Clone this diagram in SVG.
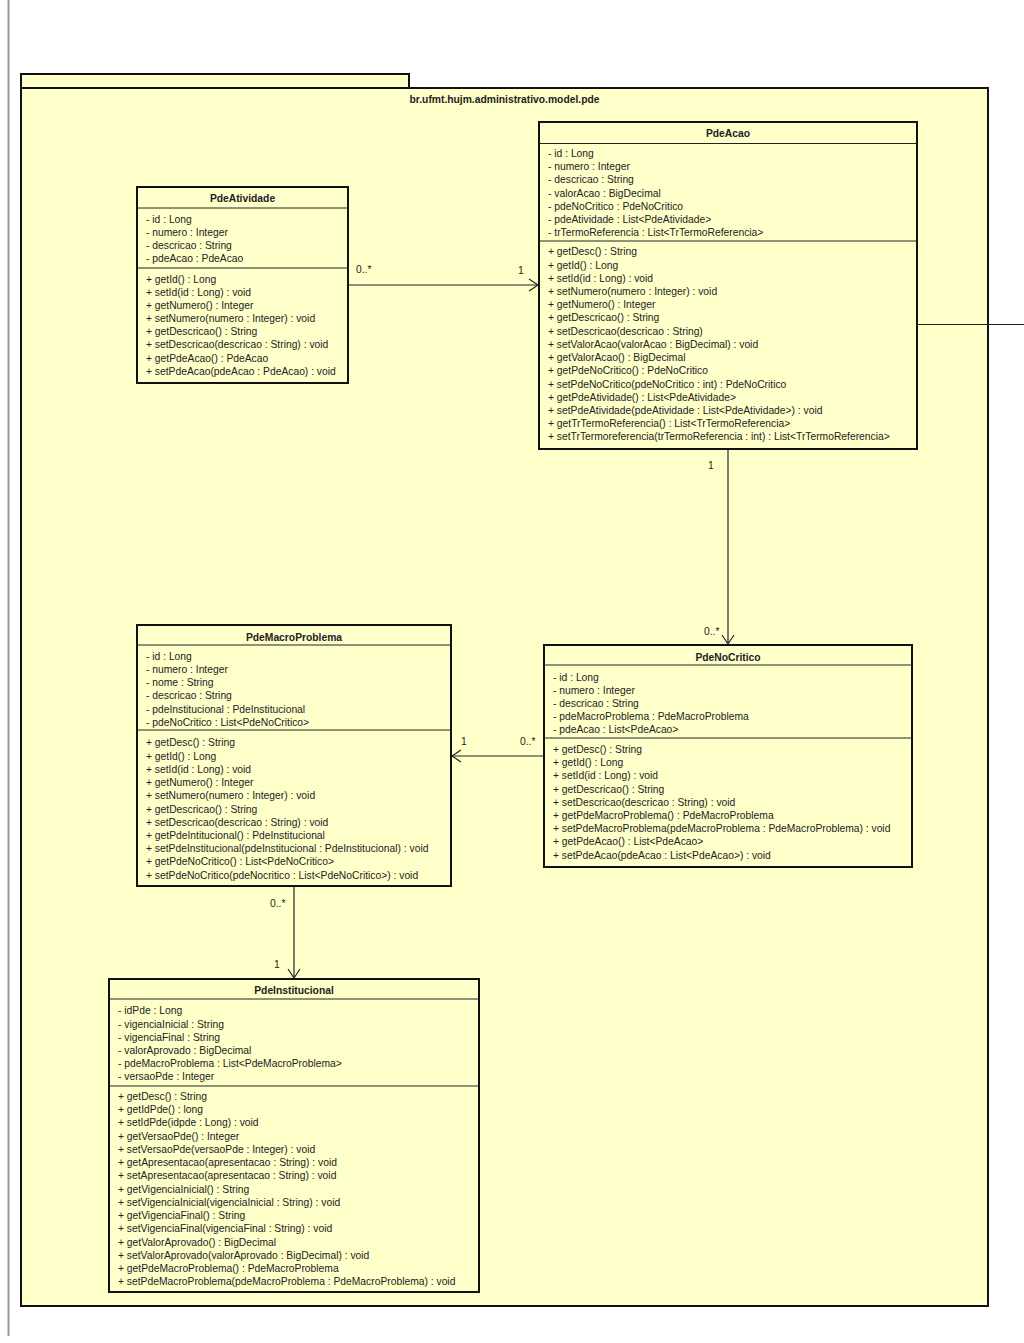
<svg xmlns="http://www.w3.org/2000/svg" width="1024" height="1343" viewBox="0 0 1024 1343">
<style>
text{font-family:"Liberation Sans",Arial,sans-serif;font-size:10.3px;fill:#222}
.t{font-weight:bold;text-anchor:middle}
.box{fill:#FFFFCA;stroke:#111;stroke-width:2}
.sep{stroke:#222;stroke-width:1}
.c{fill:none;stroke:#222;stroke-width:1.2}
</style>
<rect width="1024" height="1343" fill="#fff"/>
<line x1="8.5" y1="0" x2="8.5" y2="1336" stroke="#999" stroke-width="2"/>
<g id="package">
<rect x="21" y="74" width="388" height="14" class="box"/>
<rect x="21" y="88" width="967" height="1218" class="box"/>
<text class="t" x="504.5" y="103">br.ufmt.hujm.administrativo.model.pde</text>
</g>
<g id="connectors">
<line x1="348" y1="285" x2="538" y2="285" class="c"/>
<polyline points="529,279 538,285 529,291" class="c"/>
<text x="356" y="273">0..*</text>
<text x="518" y="274">1</text>
<line x1="728" y1="449" x2="728" y2="644" class="c"/>
<polyline points="722,635 728,644 734,635" class="c"/>
<text x="708" y="469">1</text>
<text x="704" y="635">0..*</text>
<line x1="544" y1="756" x2="452" y2="756" class="c"/>
<polyline points="461,750 452,756 461,762" class="c"/>
<text x="461" y="745">1</text>
<text x="520" y="745">0..*</text>
<line x1="294" y1="886" x2="294" y2="978" class="c"/>
<polyline points="288,969 294,978 300,969" class="c"/>
<text x="270" y="907">0..*</text>
<text x="274" y="968">1</text>
<line x1="918" y1="324.5" x2="1024" y2="324.5" class="c"/>
</g>
<g id="PdeAtividade">
<rect x="137" y="187" width="211" height="196" class="box"/>
<line x1="137" y1="208" x2="348" y2="208" class="sep"/>
<line x1="137" y1="268" x2="348" y2="268" class="sep"/>
<text class="t" x="242.5" y="202">PdeAtividade</text>
<text x="146" y="222.5"><tspan x="146">- id : Long</tspan><tspan x="146" dy="13.2">- numero : Integer</tspan><tspan x="146" dy="13.2">- descricao : String</tspan><tspan x="146" dy="13.2">- pdeAcao : PdeAcao</tspan></text>
<text x="146" y="282.7"><tspan x="146">+ getId() : Long</tspan><tspan x="146" dy="13.15">+ setId(id : Long) : void</tspan><tspan x="146" dy="13.15">+ getNumero() : Integer</tspan><tspan x="146" dy="13.15">+ setNumero(numero : Integer) : void</tspan><tspan x="146" dy="13.15">+ getDescricao() : String</tspan><tspan x="146" dy="13.15">+ setDescricao(descricao : String) : void</tspan><tspan x="146" dy="13.15">+ getPdeAcao() : PdeAcao</tspan><tspan x="146" dy="13.15">+ setPdeAcao(pdeAcao : PdeAcao) : void</tspan></text>
</g>
<g id="PdeAcao">
<rect x="539" y="122" width="378" height="327" class="box"/>
<line x1="539" y1="143.5" x2="917" y2="143.5" class="sep"/>
<line x1="539" y1="241" x2="917" y2="241" class="sep"/>
<text class="t" x="728" y="137">PdeAcao</text>
<text x="548" y="157"><tspan x="548">- id : Long</tspan><tspan x="548" dy="13.17">- numero : Integer</tspan><tspan x="548" dy="13.17">- descricao : String</tspan><tspan x="548" dy="13.17">- valorAcao : BigDecimal</tspan><tspan x="548" dy="13.17">- pdeNoCritico : PdeNoCritico</tspan><tspan x="548" dy="13.17">- pdeAtividade : List&lt;PdeAtividade&gt;</tspan><tspan x="548" dy="13.17">- trTermoReferencia : List&lt;TrTermoReferencia&gt;</tspan></text>
<text x="548" y="255.4"><tspan x="548">+ getDesc() : String</tspan><tspan x="548" dy="13.21">+ getId() : Long</tspan><tspan x="548" dy="13.21">+ setId(id : Long) : void</tspan><tspan x="548" dy="13.21">+ setNumero(numero : Integer) : void</tspan><tspan x="548" dy="13.21">+ getNumero() : Integer</tspan><tspan x="548" dy="13.21">+ getDescricao() : String</tspan><tspan x="548" dy="13.21">+ setDescricao(descricao : String)</tspan><tspan x="548" dy="13.21">+ setValorAcao(valorAcao : BigDecimal) : void</tspan><tspan x="548" dy="13.21">+ getValorAcao() : BigDecimal</tspan><tspan x="548" dy="13.21">+ getPdeNoCritico() : PdeNoCritico</tspan><tspan x="548" dy="13.21">+ setPdeNoCritico(pdeNoCritico : int) : PdeNoCritico</tspan><tspan x="548" dy="13.21">+ getPdeAtividade() : List&lt;PdeAtividade&gt;</tspan><tspan x="548" dy="13.21">+ setPdeAtividade(pdeAtividade : List&lt;PdeAtividade&gt;) : void</tspan><tspan x="548" dy="13.21">+ getTrTermoReferencia() : List&lt;TrTermoReferencia&gt;</tspan><tspan x="548" dy="13.21">+ setTrTermoreferencia(trTermoReferencia : int) : List&lt;TrTermoReferencia&gt;</tspan></text>
</g>
<g id="PdeNoCritico">
<rect x="544" y="645" width="368" height="222" class="box"/>
<line x1="544" y1="665" x2="912" y2="665" class="sep"/>
<line x1="544" y1="738" x2="912" y2="738" class="sep"/>
<text class="t" x="728" y="660.5">PdeNoCritico</text>
<text x="553" y="681"><tspan x="553">- id : Long</tspan><tspan x="553" dy="13.1">- numero : Integer</tspan><tspan x="553" dy="13.1">- descricao : String</tspan><tspan x="553" dy="13.1">- pdeMacroProblema : PdeMacroProblema</tspan><tspan x="553" dy="13.1">- pdeAcao : List&lt;PdeAcao&gt;</tspan></text>
<text x="553" y="753"><tspan x="553">+ getDesc() : String</tspan><tspan x="553" dy="13.2">+ getId() : Long</tspan><tspan x="553" dy="13.2">+ setId(id : Long) : void</tspan><tspan x="553" dy="13.2">+ getDescricao() : String</tspan><tspan x="553" dy="13.2">+ setDescricao(descricao : String) : void</tspan><tspan x="553" dy="13.2">+ getPdeMacroProblema() : PdeMacroProblema</tspan><tspan x="553" dy="13.2">+ setPdeMacroProblema(pdeMacroProblema : PdeMacroProblema) : void</tspan><tspan x="553" dy="13.2">+ getPdeAcao() : List&lt;PdeAcao&gt;</tspan><tspan x="553" dy="13.2">+ setPdeAcao(pdeAcao : List&lt;PdeAcao&gt;) : void</tspan></text>
</g>
<g id="PdeMacroProblema">
<rect x="137" y="625" width="314" height="261" class="box"/>
<line x1="137" y1="645" x2="451" y2="645" class="sep"/>
<line x1="137" y1="730" x2="451" y2="730" class="sep"/>
<text class="t" x="294" y="640.5">PdeMacroProblema</text>
<text x="146" y="659.8"><tspan x="146">- id : Long</tspan><tspan x="146" dy="13.2">- numero : Integer</tspan><tspan x="146" dy="13.2">- nome : String</tspan><tspan x="146" dy="13.2">- descricao : String</tspan><tspan x="146" dy="13.2">- pdeInstitucional : PdeInstitucional</tspan><tspan x="146" dy="13.2">- pdeNoCritico : List&lt;PdeNoCritico&gt;</tspan></text>
<text x="146" y="746.4"><tspan x="146">+ getDesc() : String</tspan><tspan x="146" dy="13.23">+ getId() : Long</tspan><tspan x="146" dy="13.23">+ setId(id : Long) : void</tspan><tspan x="146" dy="13.23">+ getNumero() : Integer</tspan><tspan x="146" dy="13.23">+ setNumero(numero : Integer) : void</tspan><tspan x="146" dy="13.23">+ getDescricao() : String</tspan><tspan x="146" dy="13.23">+ setDescricao(descricao : String) : void</tspan><tspan x="146" dy="13.23">+ getPdeIntitucional() : PdeInstitucional</tspan><tspan x="146" dy="13.23">+ setPdeInstitucional(pdeInstitucional : PdeInstitucional) : void</tspan><tspan x="146" dy="13.23">+ getPdeNoCritico() : List&lt;PdeNoCritico&gt;</tspan><tspan x="146" dy="13.23">+ setPdeNoCritico(pdeNocritico : List&lt;PdeNoCritico&gt;) : void</tspan></text>
</g>
<g id="PdeInstitucional">
<rect x="109" y="979" width="370" height="313" class="box"/>
<line x1="109" y1="999" x2="479" y2="999" class="sep"/>
<line x1="109" y1="1086" x2="479" y2="1086" class="sep"/>
<text class="t" x="294" y="994">PdeInstitucional</text>
<text x="118" y="1014.4"><tspan x="118">- idPde : Long</tspan><tspan x="118" dy="13.2">- vigenciaInicial : String</tspan><tspan x="118" dy="13.2">- vigenciaFinal : String</tspan><tspan x="118" dy="13.2">- valorAprovado : BigDecimal</tspan><tspan x="118" dy="13.2">- pdeMacroProblema : List&lt;PdeMacroProblema&gt;</tspan><tspan x="118" dy="13.2">- versaoPde : Integer</tspan></text>
<text x="118" y="1099.8"><tspan x="118">+ getDesc() : String</tspan><tspan x="118" dy="13.26">+ getIdPde() : long</tspan><tspan x="118" dy="13.26">+ setIdPde(idpde : Long) : void</tspan><tspan x="118" dy="13.26">+ getVersaoPde() : Integer</tspan><tspan x="118" dy="13.26">+ setVersaoPde(versaoPde : Integer) : void</tspan><tspan x="118" dy="13.26">+ getApresentacao(apresentacao : String) : void</tspan><tspan x="118" dy="13.26">+ setApresentacao(apresentacao : String) : void</tspan><tspan x="118" dy="13.26">+ getVigenciaInicial() : String</tspan><tspan x="118" dy="13.26">+ setVigenciaInicial(vigenciaInicial : String) : void</tspan><tspan x="118" dy="13.26">+ getVigenciaFinal() : String</tspan><tspan x="118" dy="13.26">+ setVigenciaFinal(vigenciaFinal : String) : void</tspan><tspan x="118" dy="13.26">+ getValorAprovado() : BigDecimal</tspan><tspan x="118" dy="13.26">+ setValorAprovado(valorAprovado : BigDecimal) : void</tspan><tspan x="118" dy="13.26">+ getPdeMacroProblema() : PdeMacroProblema</tspan><tspan x="118" dy="13.26">+ setPdeMacroProblema(pdeMacroProblema : PdeMacroProblema) : void</tspan></text>
</g>
</svg>
